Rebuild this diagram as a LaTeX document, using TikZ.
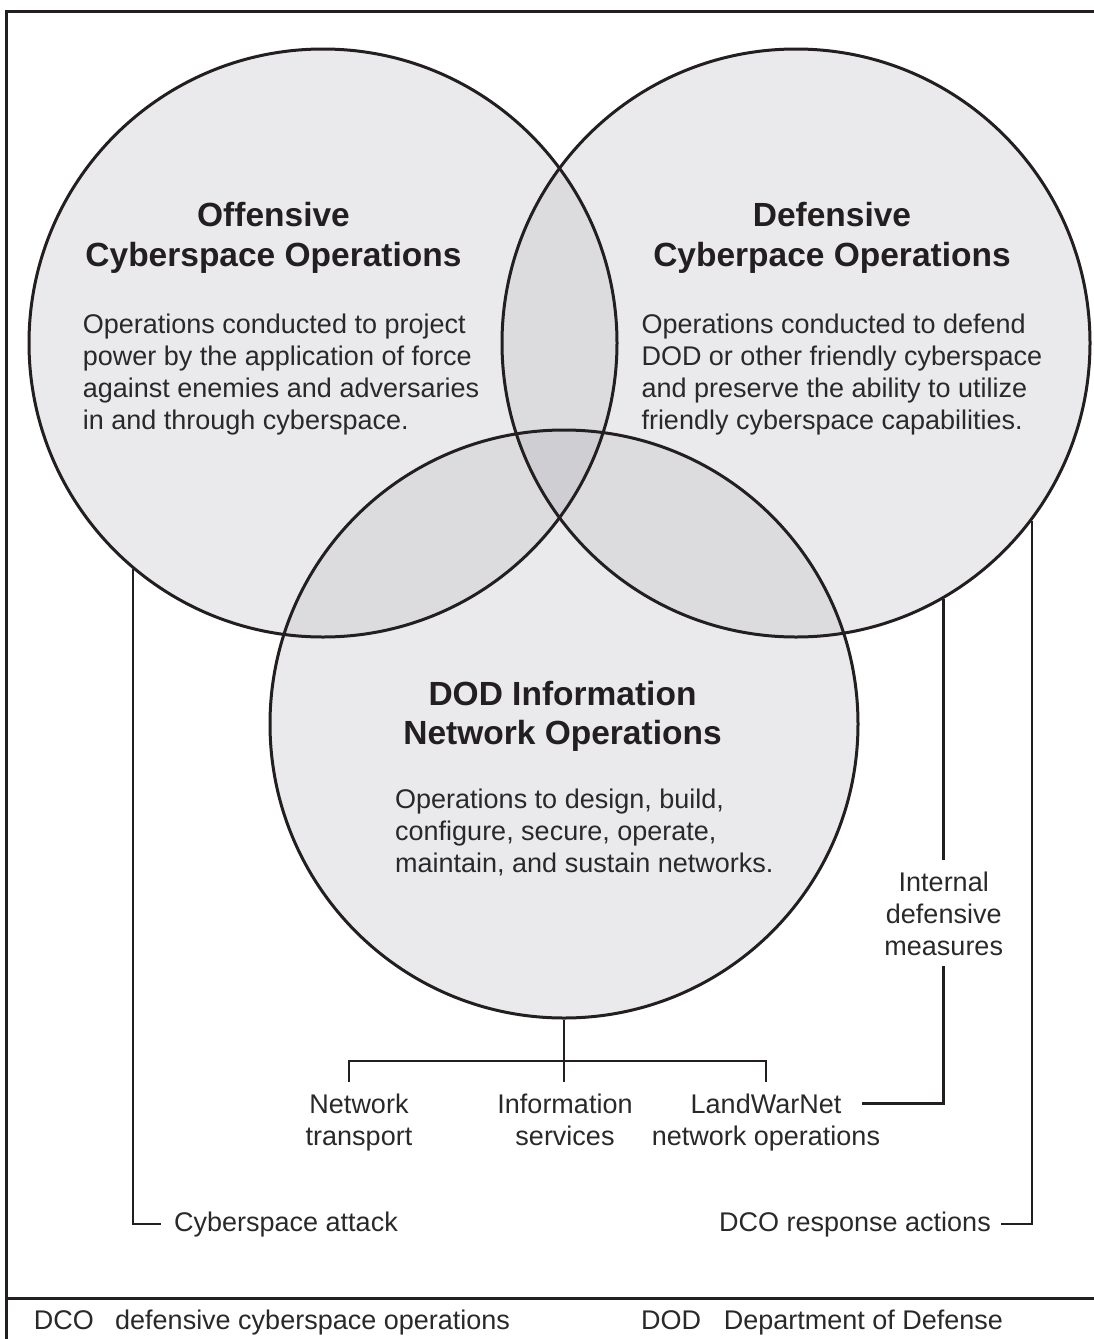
\documentclass[tikz,border=0pt]{standalone}
\usepackage{fontspec}
\setmainfont{Liberation Sans}
\usetikzlibrary{calc}
\definecolor{fillA}{RGB}{234,234,236}
\definecolor{fillB}{RGB}{220,220,223}
\definecolor{fillC}{RGB}{207,207,211}
\definecolor{ink}{RGB}{35,31,32}
\definecolor{bodyink}{RGB}{42,40,41}
\begin{document}
\begin{tikzpicture}[x=1pt,y=-1pt,
  venn/.style={circle,draw=ink,line width=3pt,minimum size=588pt,inner sep=0pt},
  title/.style={font=\fontsize{33.5}{39.5}\selectfont\bfseries,text=ink,align=center,anchor=base,inner sep=0pt},
  body/.style={font=\fontsize{27}{32}\selectfont,text=bodyink,align=left,anchor=base west,inner sep=0pt},
  lbl/.style={font=\fontsize{27}{32}\selectfont,text=bodyink,align=center},
  conn/.style={draw=ink,line width=2.8pt},
  frameline/.style={draw=ink,line width=3pt}
]
\useasboundingbox (0,0) rectangle (1094,1339);
% frame
\draw[frameline] (1094,11) -- (6,11) -- (6,1339);
\draw[frameline] (6,1298) -- (1094,1298);
% fills
\fill[fillA] (323,343) circle[radius=294];
\fill[fillA] (796,343) circle[radius=294];
\fill[fillA] (564,724) circle[radius=294];
\begin{scope}
  \clip (323,343) circle[radius=294];
  \fill[fillB] (796,343) circle[radius=294];
  \fill[fillB] (564,724) circle[radius=294];
\end{scope}
\begin{scope}
  \clip (796,343) circle[radius=294];
  \fill[fillB] (564,724) circle[radius=294];
\end{scope}
\begin{scope}
  \clip (323,343) circle[radius=294];
  \clip (796,343) circle[radius=294];
  \fill[fillC] (564,724) circle[radius=294];
\end{scope}
% circles
\node[venn] (L) at (323,343) {};
\node[venn] (R) at (796,343) {};
\node[venn] (B) at (564,724) {};
% titles (anchor = baseline of the last line)
\node[title] (Lt) at (273.5,266.2) {Offensive\\Cyberspace Operations};
\node[title] (Rt) at (832,266.2) {Defensive\\Cyberpace Operations};
\node[title] (Bt) at (562.5,744.5) {DOD Information\\Network Operations};
% bodies
\node[body] (Lb) at (82.7,429.3) {Operations conducted to project\\power by the application of force\\against enemies and adversaries\\in and through cyberspace.};
\node[body] (Rb) at (641.3,429.3) {Operations conducted to defend\\DOD or other friendly cyberspace\\and preserve the ability to utilize\\friendly cyberspace capabilities.};
\node[body] (Bb) at (395,872) {Operations to design, build,\\configure, secure, operate,\\maintain, and sustain networks.};
% labels
\coordinate (idmy) at (0,955);
\node[lbl,anchor=base,inner xsep=4pt,inner ysep=11pt] (idm) at (R.-60.5 |- idmy) {Internal\\defensive\\measures};
\node[lbl,anchor=base,inner xsep=4pt,inner ysep=11pt] (nt) at (359,1145) {Network\\transport};
\node[lbl,anchor=base,inner xsep=4pt,inner ysep=11pt] (is) at (565,1145) {Information\\services};
\node[lbl,anchor=base,inner xsep=21pt,inner ysep=11pt] (lw) at (766,1113) {LandWarNet};
\node[lbl,anchor=base,inner sep=0pt] (no) at (766,1145) {network operations};
\node[lbl,anchor=base west,inner xsep=13.3pt] (atk) at (160.7,1231) {Cyberspace attack};
\node[lbl,anchor=base east,inner xsep=10pt] (dco) at (1001,1231) {DCO response actions};
% legend
\node[body] (k1) at (33.7,1329) {DCO};
\node[body] (k1d) at (115,1329) {defensive cyberspace operations};
\node[body] (k2) at (641,1329) {DOD};
\node[body] (k2d) at (723.6,1329) {Department of Defense};
% connectors
\coordinate (bar) at (564,1061);
\draw[conn] (L.230) |- (atk.west);
\draw[conn] (R.-37.3) |- (dco.east);
\draw[conn] (R.-60.5) -- (idm.north);
\draw[conn] (idm.south) |- (lw.east);
\draw[conn] (B.south) -- (B.south |- is.north);
\draw[conn] ([xshift=-10pt]nt.north) |- (bar) -| (lw.north);
\end{tikzpicture}
\end{document}
